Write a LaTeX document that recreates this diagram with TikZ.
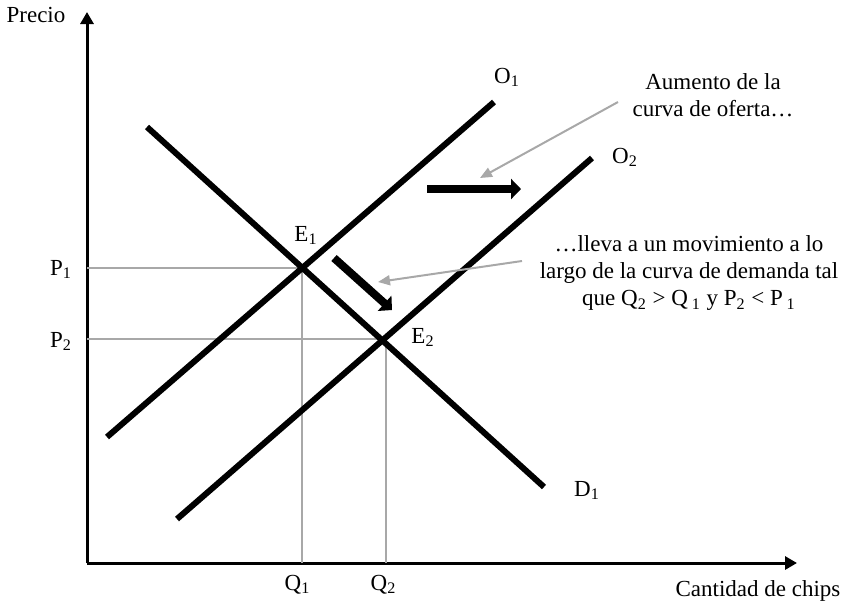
\documentclass[tikz,border=0pt]{standalone}
\usepackage{fontspec}
\setmainfont{Liberation Serif}
\usetikzlibrary{arrows.meta,calc}
\definecolor{guidegray}{RGB}{168,168,168}
\tikzset{
  axisline/.style={line width=1.5pt,-{Triangle[length=6pt,width=6.5pt]}},
  schedule/.style={line width=3pt},
  guide/.style={line width=1pt,draw=guidegray},
  movearrow/.style={line width=4pt,-{Triangle[length=5pt,width=10pt]}},
  notearrow/.style={line width=1pt,draw=guidegray,-{Triangle[length=6pt,width=5pt]}},
  lbl/.style={anchor=base,inner sep=0pt}
}

\begin{document}
\begin{tikzpicture}[x=0.5pt,y=-0.5pt,font=\fontsize{11.5}{13.5}\selectfont]
  \useasboundingbox (0,0) rectangle (844,600);
  % axes
  \coordinate (O) at (87,563);
  \coordinate (ytip) at (87,12);
  \coordinate (xtip) at (797,563);
  \draw[axisline] (O) -- (ytip);
  \draw[axisline] (O) -- (xtip);
  \node[lbl] (precio) at (36,22.5) {Precio};
  \node[lbl] (cantidad) at (758,596) {Cantidad de chips};
  % equilibria
  \coordinate (E1) at (302,268);
  \coordinate (E2) at (386,339);
  \coordinate (P1) at (87,268);
  \coordinate (P2) at (87,339);
  \coordinate (Q1) at (302,563);
  \coordinate (Q2) at (386,563);
  \draw[guide] (P1) -- (E1) -- (Q1);
  \draw[guide] (P2) -- (E2) -- (Q2);
  \node[lbl] (p1) at (61,275) {P\textsubscript{1}};
  \node[lbl] (p2) at (61,347) {P\textsubscript{2}};
  \node[lbl] (q1) at (297.5,590) {Q\textsubscript{1}};
  \node[lbl] (q2) at (383.5,590) {Q\textsubscript{2}};
  % demand and supply
  \coordinate (D1a) at (147,127);
  \coordinate (D1b) at (544,487);
  \coordinate (O1a) at (107,437);
  \coordinate (O1b) at (494,102);
  \coordinate (O2a) at (177,519);
  \coordinate (O2b) at (592,158);
  \draw[schedule] (D1a) -- (D1b);
  \draw[schedule] (O1a) -- (O1b);
  \draw[schedule] (O2a) -- (O2b);
  \node[lbl] (d1) at (587,496) {D\textsubscript{1}};
  \node[lbl] (o1) at (507,83) {O\textsubscript{1}};
  \node[lbl] (o2) at (625,163) {O\textsubscript{2}};
  \node[lbl] (e1) at (306,241) {E\textsubscript{1}};
  \node[lbl] (e2) at (423,343) {E\textsubscript{2}};
  % shifts
  \coordinate (s1) at (427,189);
  \coordinate (s2) at (521,189);
  \coordinate (m1) at (334,258);
  \coordinate (m2) at (392,310);
  \draw[movearrow] (s1) -- (s2);
  \draw[movearrow] (m1) -- (m2);
  % notes
  \node[align=center,inner sep=0pt] (aumento) at (713,95)
    {Aumento de la\\curva de oferta\ldots};
  \node[align=center,inner sep=0pt] (lleva) at (689,273)
    {\ldots lleva a un movimiento a lo\\largo de la curva de demanda tal\\
     que Q\textsubscript{2} > Q\,\textsubscript{1} y P\textsubscript{2} < P\,\textsubscript{1}};
  \coordinate (n1) at (618,102);
  \coordinate (n1tip) at (480,178);
  \coordinate (n2) at (522,261);
  \coordinate (n2tip) at (378,282);
  \draw[notearrow] (n1) -- (n1tip);
  \draw[notearrow] (n2) -- (n2tip);
\end{tikzpicture}
\end{document}
